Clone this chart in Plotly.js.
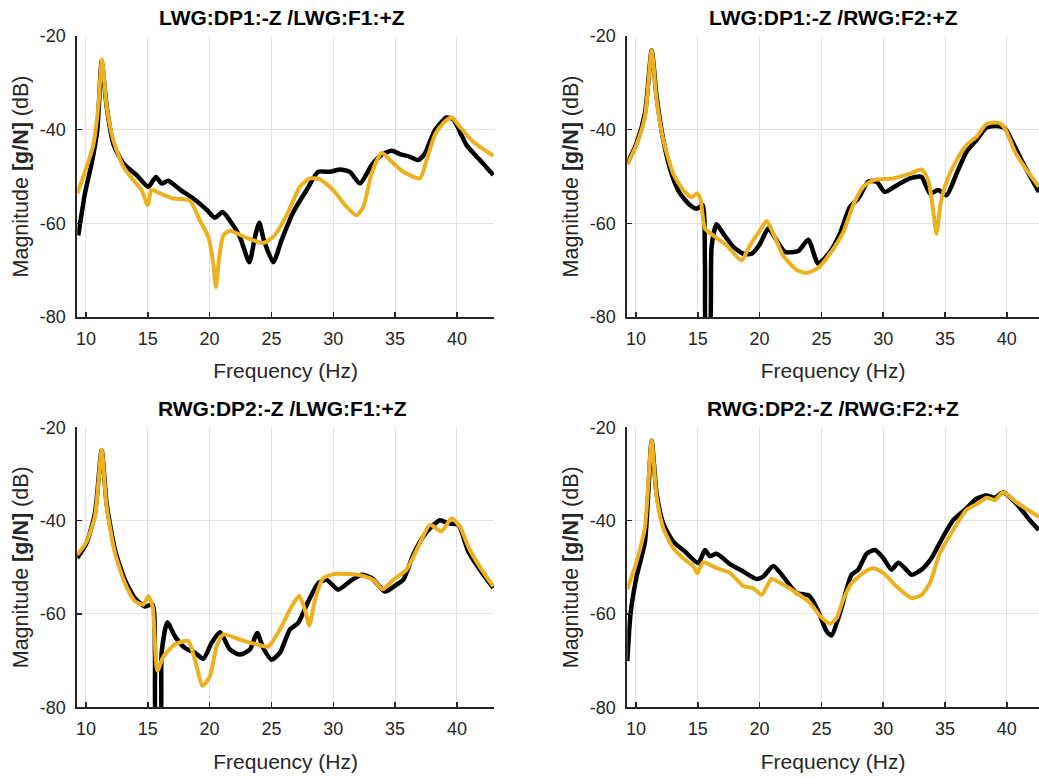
<!DOCTYPE html>
<html><head><meta charset="utf-8">
<script src="https://cdn.plot.ly/plotly-3.0.1.min.js"></script>
<style>html,body{margin:0;padding:0;background:#fff}#chart{width:1039px;height:778px}</style>
</head><body><div id="chart"></div>
<script>
// Panel titles
const panelTitles = ["LWG:DP1:-Z /LWG:F1:+Z", "LWG:DP1:-Z /RWG:F2:+Z", "RWG:DP2:-Z /LWG:F1:+Z", "RWG:DP2:-Z /RWG:F2:+Z"];
const xTicks = [10, 15, 20, 25, 30, 35, 40];
const yTicks = [-80, -60, -40, -20];

// Panel 1 (LWG:DP1 / LWG:F1)
const p1BlackF = [9.38,9.92,10.46,10.92,11.27,11.67,12.21,13.02,14.10,15.04,15.66,16.12,16.66,17.60,18.68,19.76,20.43,21.05,21.64,22.45,23.21,23.67,24.02,24.39,25.15,25.82,26.77,27.84,28.79,29.73,30.54,31.35,32.16,33.10,33.91,34.72,35.39,36.20,36.87,37.41,38.22,39.16,39.70,40.78,41.86,42.94];
const p1BlackM = [-62.6,-53.6,-47.2,-40.0,-25.4,-35.0,-43.0,-47.2,-49.7,-52.2,-50.1,-51.5,-50.9,-52.8,-54.7,-57.1,-58.8,-57.6,-59.4,-62.9,-68.3,-62.9,-59.9,-63.6,-68.3,-63.6,-57.6,-52.9,-49.0,-49.0,-48.5,-49.0,-51.5,-47.6,-45.4,-44.5,-45.2,-45.8,-46.5,-45.1,-40.1,-37.4,-37.8,-43.3,-46.5,-49.7];
const p1YellowF = [9.30,9.92,10.59,11.00,11.29,11.67,12.21,13.02,13.83,14.50,14.99,15.31,15.98,17.06,18.41,19.22,19.89,20.30,20.51,20.78,21.11,21.64,22.99,24.34,25.15,26.23,27.30,28.11,28.92,30.00,31.08,31.89,32.43,33.10,33.91,34.58,35.66,37.01,37.55,38.22,38.89,39.57,40.24,41.32,42.94];
const p1YellowM = [-53.6,-49.0,-43.3,-35.0,-25.0,-35.0,-42.2,-47.9,-50.8,-52.9,-56.1,-52.8,-53.6,-54.7,-55.2,-59.4,-62.9,-68.6,-73.6,-67.2,-62.6,-61.6,-63.1,-64.2,-62.9,-58.3,-52.2,-50.4,-50.6,-52.9,-56.5,-58.3,-56.5,-49.4,-45.0,-46.5,-49.0,-50.4,-46.5,-41.1,-38.6,-37.4,-39.4,-42.6,-45.6];

// Panel 2 (LWG:DP1 / RWG:F2)
const p2BlackF = [9.30,10.05,10.73,11.27,11.67,12.21,12.88,13.56,14.37,14.91,15.39,15.58,15.71,15.93,16.12,16.52,17.06,17.87,18.68,19.35,20.03,20.70,21.37,22.05,23.13,23.94,24.74,25.69,26.50,27.30,27.98,28.79,29.46,30.13,31.08,32.16,33.10,33.77,34.45,35.12,35.93,36.74,37.55,38.36,39.16,39.84,40.51,41.32,42.59];
const p2BlackM = [-47.2,-42.9,-36.5,-23.1,-32.9,-42.2,-49.4,-53.6,-56.1,-56.9,-56.1,-68.6,-85.0,-85.0,-65.0,-60.2,-62.2,-65.0,-66.5,-66.5,-64.4,-61.1,-63.6,-66.1,-65.9,-63.5,-68.6,-66.1,-62.2,-56.5,-54.7,-51.1,-51.1,-53.3,-51.9,-50.4,-50.1,-53.6,-52.9,-54.0,-49.4,-44.7,-42.2,-39.5,-39.2,-39.7,-42.9,-47.2,-53.3];
const p2YellowF = [9.30,10.05,10.73,11.27,11.67,12.21,13.02,13.83,14.50,14.96,15.23,15.58,16.25,17.33,18.54,19.22,20.03,20.57,21.11,21.91,22.99,23.80,24.74,25.69,26.77,27.57,28.38,29.19,30.81,32.16,33.10,33.64,34.04,34.31,34.64,35.12,35.93,36.74,37.55,38.36,39.30,39.84,40.65,41.59,42.59];
const p2YellowM = [-47.4,-43.2,-37.2,-23.1,-33.6,-42.2,-49.4,-52.9,-54.4,-53.6,-55.0,-61.1,-62.6,-64.7,-67.9,-64.7,-61.5,-59.5,-62.2,-66.9,-69.9,-70.6,-69.5,-66.5,-61.9,-56.1,-52.2,-50.8,-50.4,-49.4,-48.5,-50.8,-57.2,-62.2,-55.8,-51.1,-46.5,-43.3,-41.5,-38.8,-38.5,-39.7,-44.7,-48.6,-52.2];

// Panel 3 (RWG:DP2 / LWG:F1)
const p3BlackF = [9.30,10.05,10.73,11.27,11.67,12.35,13.15,13.96,14.77,15.39,15.58,15.71,15.98,16.12,16.58,17.20,18.01,18.81,19.49,20.16,20.84,21.64,22.45,23.26,23.85,24.34,25.01,25.69,26.50,27.17,27.98,28.79,29.46,30.40,31.35,32.29,33.10,34.18,35.12,35.66,36.47,37.28,37.95,38.63,39.30,40.11,40.92,41.86,42.94];
const p3BlackM = [-48.0,-44.8,-38.4,-24.9,-36.3,-46.3,-52.7,-56.6,-58.4,-58.0,-68.3,-85.0,-85.0,-68.3,-61.8,-64.8,-67.3,-68.3,-69.6,-66.2,-63.9,-67.6,-68.7,-67.6,-64.1,-67.3,-69.8,-68.3,-63.3,-61.9,-57.3,-53.4,-52.7,-54.8,-53.0,-51.6,-52.3,-55.2,-53.7,-52.7,-47.3,-43.4,-41.3,-39.9,-40.6,-40.9,-46.6,-50.5,-54.4];
const p3YellowF = [9.30,10.05,10.73,11.27,11.67,12.35,13.15,13.96,14.64,15.04,15.39,15.77,16.25,17.20,18.27,18.81,19.43,20.03,20.57,21.11,22.45,23.80,24.74,25.69,26.63,27.25,27.71,28.06,28.52,29.19,30.27,32.16,33.23,33.99,34.85,35.93,36.87,37.82,38.76,39.57,40.24,41.05,42.00,42.94];
const p3YellowM = [-47.3,-44.5,-39.1,-24.8,-37.0,-47.0,-53.4,-57.3,-58.0,-56.2,-58.4,-72.2,-69.2,-66.5,-65.8,-69.8,-75.4,-73.3,-66.9,-64.4,-65.5,-66.5,-67.0,-63.3,-58.4,-56.1,-59.1,-62.5,-57.0,-52.3,-51.4,-51.7,-52.7,-54.7,-52.7,-50.5,-45.6,-40.9,-42.3,-39.5,-41.3,-46.3,-50.5,-54.1];

// Panel 4 (RWG:DP2 / RWG:F2)
const p4BlackF = [9.30,9.57,10.05,10.73,11.27,11.67,12.21,13.02,13.96,15.04,15.58,15.98,16.52,17.60,18.68,19.76,20.30,21.11,21.91,22.99,24.02,24.74,25.42,25.82,26.50,27.44,27.98,28.65,29.33,30.00,30.67,31.21,31.75,32.29,33.10,33.91,34.85,35.66,36.60,37.55,38.36,39.03,39.70,40.78,41.86,42.59];
const p4BlackM = [-70.1,-59.8,-52.0,-44.5,-22.9,-34.2,-40.6,-44.5,-46.6,-49.1,-46.3,-47.6,-47.1,-49.3,-50.9,-52.5,-52.0,-49.7,-52.0,-55.5,-56.1,-59.4,-63.7,-64.6,-59.8,-51.6,-50.5,-47.1,-46.3,-48.0,-50.5,-49.0,-50.2,-51.6,-50.5,-48.0,-43.4,-39.9,-37.7,-35.3,-34.6,-35.1,-33.9,-36.4,-39.9,-42.0];
const p4YellowF = [9.30,10.05,10.73,11.27,11.67,12.21,13.02,13.96,14.64,14.96,15.44,16.52,17.60,18.68,19.49,20.16,20.97,21.91,22.99,24.07,24.88,25.69,26.23,26.77,27.44,28.38,29.19,30.00,31.08,32.29,33.10,33.77,34.58,35.66,36.74,37.68,38.36,39.03,39.70,40.78,42.59];
const p4YellowM = [-54.7,-48.8,-41.3,-22.9,-34.9,-41.6,-45.9,-48.4,-49.8,-51.3,-48.9,-50.2,-51.2,-54.0,-54.5,-55.9,-52.5,-53.7,-55.5,-57.6,-60.4,-62.1,-60.9,-56.9,-53.4,-51.2,-50.2,-51.2,-54.1,-56.6,-55.9,-53.4,-47.0,-42.0,-37.7,-36.3,-35.1,-35.6,-33.9,-36.1,-39.2];

const W = 1039, H = 778;
const blackC = '#000000', yellowC = '#EDB120';
const series = [
  [p1BlackF, p1BlackM, p1YellowF, p1YellowM],
  [p2BlackF, p2BlackM, p2YellowF, p2YellowM],
  [p3BlackF, p3BlackM, p3YellowF, p3YellowM],
  [p4BlackF, p4BlackM, p4YellowF, p4YellowM]
];
// pixel boxes [left, right, top, bottom]
const boxes = [[77.3, 494, 36, 317], [627.3, 1039, 36, 317], [77.3, 494, 427.3, 707.3], [627.3, 1039, 427.3, 707.3]];
const xRanges = [[9.3, 43], [9.3, 42.6], [9.3, 43], [9.3, 42.6]];
const titleCenters = [282, 833, 282, 833];
const FONT = '"Liberation Sans", Arial, Helvetica, sans-serif';

const traces = [];
const layout = {
  width: W, height: H, margin: {l: 0, r: 0, t: 0, b: 0},
  paper_bgcolor: '#fff', plot_bgcolor: '#fff', showlegend: false,
  font: {family: FONT, size: 18, color: '#262626'},
  annotations: []
};
series.forEach((s, i) => {
  const n = i + 1;
  const xa = 'x' + (n === 1 ? '' : n), ya = 'y' + (n === 1 ? '' : n);
  traces.push({x: s[0], y: s[1], xaxis: xa, yaxis: ya, mode: 'lines', type: 'scatter',
    line: {color: blackC, width: 4.5, shape: 'spline', smoothing: 0.6}, hoverinfo: 'skip'});
  traces.push({x: s[2], y: s[3], xaxis: xa, yaxis: ya, mode: 'lines', type: 'scatter',
    line: {color: yellowC, width: 4, shape: 'spline', smoothing: 0.6}, hoverinfo: 'skip'});
  const b = boxes[i];
  const axCommon = {showline: true, linecolor: '#262626', linewidth: 2, ticks: 'inside', ticklen: 5,
    tickwidth: 1.5, tickcolor: '#262626', showgrid: true, gridcolor: '#e3e3e3', gridwidth: 1,
    zeroline: false, mirror: false, tickfont: {family: FONT, size: 18, color: '#262626'}};
  layout['xaxis' + (n === 1 ? '' : n)] = Object.assign({}, axCommon, {
    domain: [b[0] / W, b[1] / W], range: xRanges[i], tickvals: xTicks, ticktext: xTicks.map(String),
    anchor: ya, ticklabelstandoff: 4,
    title: {text: 'Frequency (Hz)', font: {family: FONT, size: 21, color: '#262626'}, standoff: 16}
  });
  layout['yaxis' + (n === 1 ? '' : n)] = Object.assign({}, axCommon, {
    domain: [1 - b[3] / H, 1 - b[2] / H], range: [-80, -20], tickvals: yTicks, ticktext: yTicks.map(String),
    anchor: xa, ticklabelstandoff: 6,
    title: {text: 'Magnitude <b>[g/N]</b> (dB)', font: {family: FONT, size: 21.5, color: '#262626'}, standoff: 5}
  });
  layout.annotations.push({text: '<b>' + panelTitles[i] + '</b>', xref: 'paper', yref: 'paper',
    x: titleCenters[i] / W, y: 1 - (b[2] - 19) / H, xanchor: 'center', yanchor: 'middle',
    showarrow: false, font: {family: FONT, size: 21, color: '#000'}});
});
Plotly.newPlot('chart', traces, layout, {staticPlot: true});
</script></body></html>
